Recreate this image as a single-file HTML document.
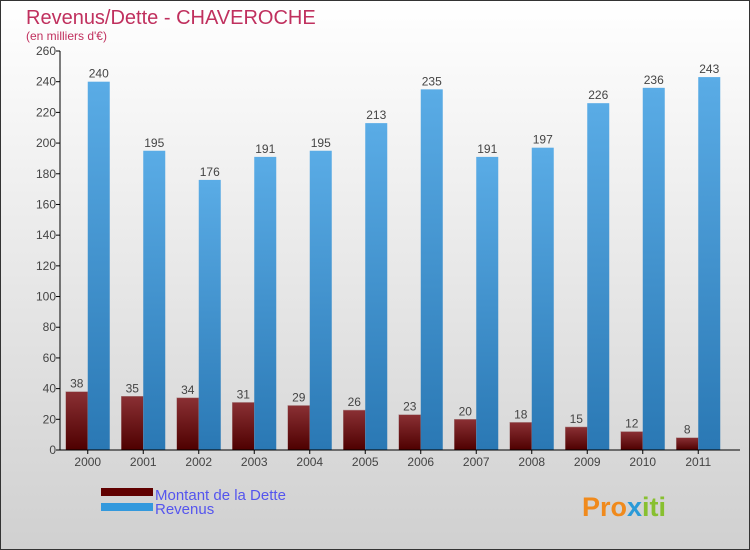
<!DOCTYPE html>
<html><head><meta charset="utf-8"><style>
body{margin:0}
#c{width:750px;height:550px;position:relative;box-sizing:border-box;border:1px solid #333;background:linear-gradient(#ffffff,#d0d0d0);font-family:"Liberation Sans",sans-serif;overflow:hidden}
</style></head><body>
<div id="c">
<svg id="s" width="750" height="550" style="position:absolute;left:-1px;top:-1px">
<defs>
<linearGradient id="gd" x1="0" y1="0" x2="0" y2="1"><stop offset="0" stop-color="#8a3034"/><stop offset="1" stop-color="#4e0000"/></linearGradient>
<linearGradient id="gr" x1="0" y1="0" x2="0" y2="1"><stop offset="0" stop-color="#5aace6"/><stop offset="1" stop-color="#2a78b4"/></linearGradient>
</defs>
<text x="26" y="24" font-size="20" fill="#c0305e">Revenus/Dette - CHAVEROCHE</text>
<text x="26" y="40" font-size="12" fill="#c0305e">(en milliers d'€)</text>
<g id="plot"></g>
<rect x="101" y="488" width="52" height="8" fill="#600000"/>
<rect x="101" y="503" width="52" height="8" fill="#3399dd"/>
<text x="155" y="500" font-size="15" fill="#5555ee">Montant de la Dette</text>
<text x="155" y="514" font-size="15" fill="#5555ee">Revenus</text>
<text x="582" y="516" font-size="27" font-weight="bold" fill="#f08a1c">Pro<tspan fill="#2a9ad8">x</tspan><tspan fill="#88c030">iti</tspan></text>
</svg>
</div>
<script>
const years=["2000","2001","2002","2003","2004","2005","2006","2007","2008","2009","2010","2011"];
const dette=[38,35,34,31,29,26,23,20,18,15,12,8];
const revenus=[240,195,176,191,195,213,235,191,197,226,236,243];
const yTicks=[0,20,40,60,80,100,120,140,160,180,200,220,240,260];
const NS="http://www.w3.org/2000/svg";
const g=document.getElementById("plot");
const x0=60,bw=55.5,y0=450,yTop=51,yMax=260;
function y(v){return y0-(v/yMax)*(y0-yTop);}
function bx(i){return x0+bw*i+bw/2;}
function mk(t,a){const e=document.createElementNS(NS,t);for(const k in a)e.setAttribute(k,a[k]);g.appendChild(e);return e;}
yTicks.forEach(v=>{
 const l=mk("line",{x1:x0-4,x2:x0,y1:y(v),y2:y(v),stroke:"#000"});
 
 
 const t=mk("text",{x:x0-4,y:y(v)+4,"text-anchor":"end","font-size":12,fill:"#444"});
 t.textContent=v;
 
 
});
years.forEach((yr,i)=>{
 const c=bx(i);
 const d=mk("rect",{x:c-22,y:y(dette[i]),width:22,height:y0-y(dette[i]),fill:"url(#gd)",stroke:"#aa8888","stroke-width":0.5});
 
 
 const r=mk("rect",{x:c,y:y(revenus[i]),width:22,height:y0-y(revenus[i]),fill:"url(#gr)"});
 
 
 const dl=mk("text",{x:c-11,y:y(dette[i])-4,"text-anchor":"middle","font-size":12,fill:"#444"});
 dl.textContent=dette[i];
 
 
 const rl=mk("text",{x:c+11,y:y(revenus[i])-4,"text-anchor":"middle","font-size":12,fill:"#444"});
 rl.textContent=revenus[i];
 
 
 const tk=mk("line",{x1:c,x2:c,y1:y0,y2:y0+4,stroke:"#000"});
 
 
 const xl=mk("text",{x:c,y:y0+16,"text-anchor":"middle","font-size":12,fill:"#444"});
 xl.textContent=yr;
 
 
});
const ya=mk("line",{x1:x0,x2:x0,y1:yTop,y2:y0,stroke:"#000"});


const xa=mk("line",{x1:x0,x2:740,y1:y0,y2:y0,stroke:"#000"});


</script>
</body></html>
